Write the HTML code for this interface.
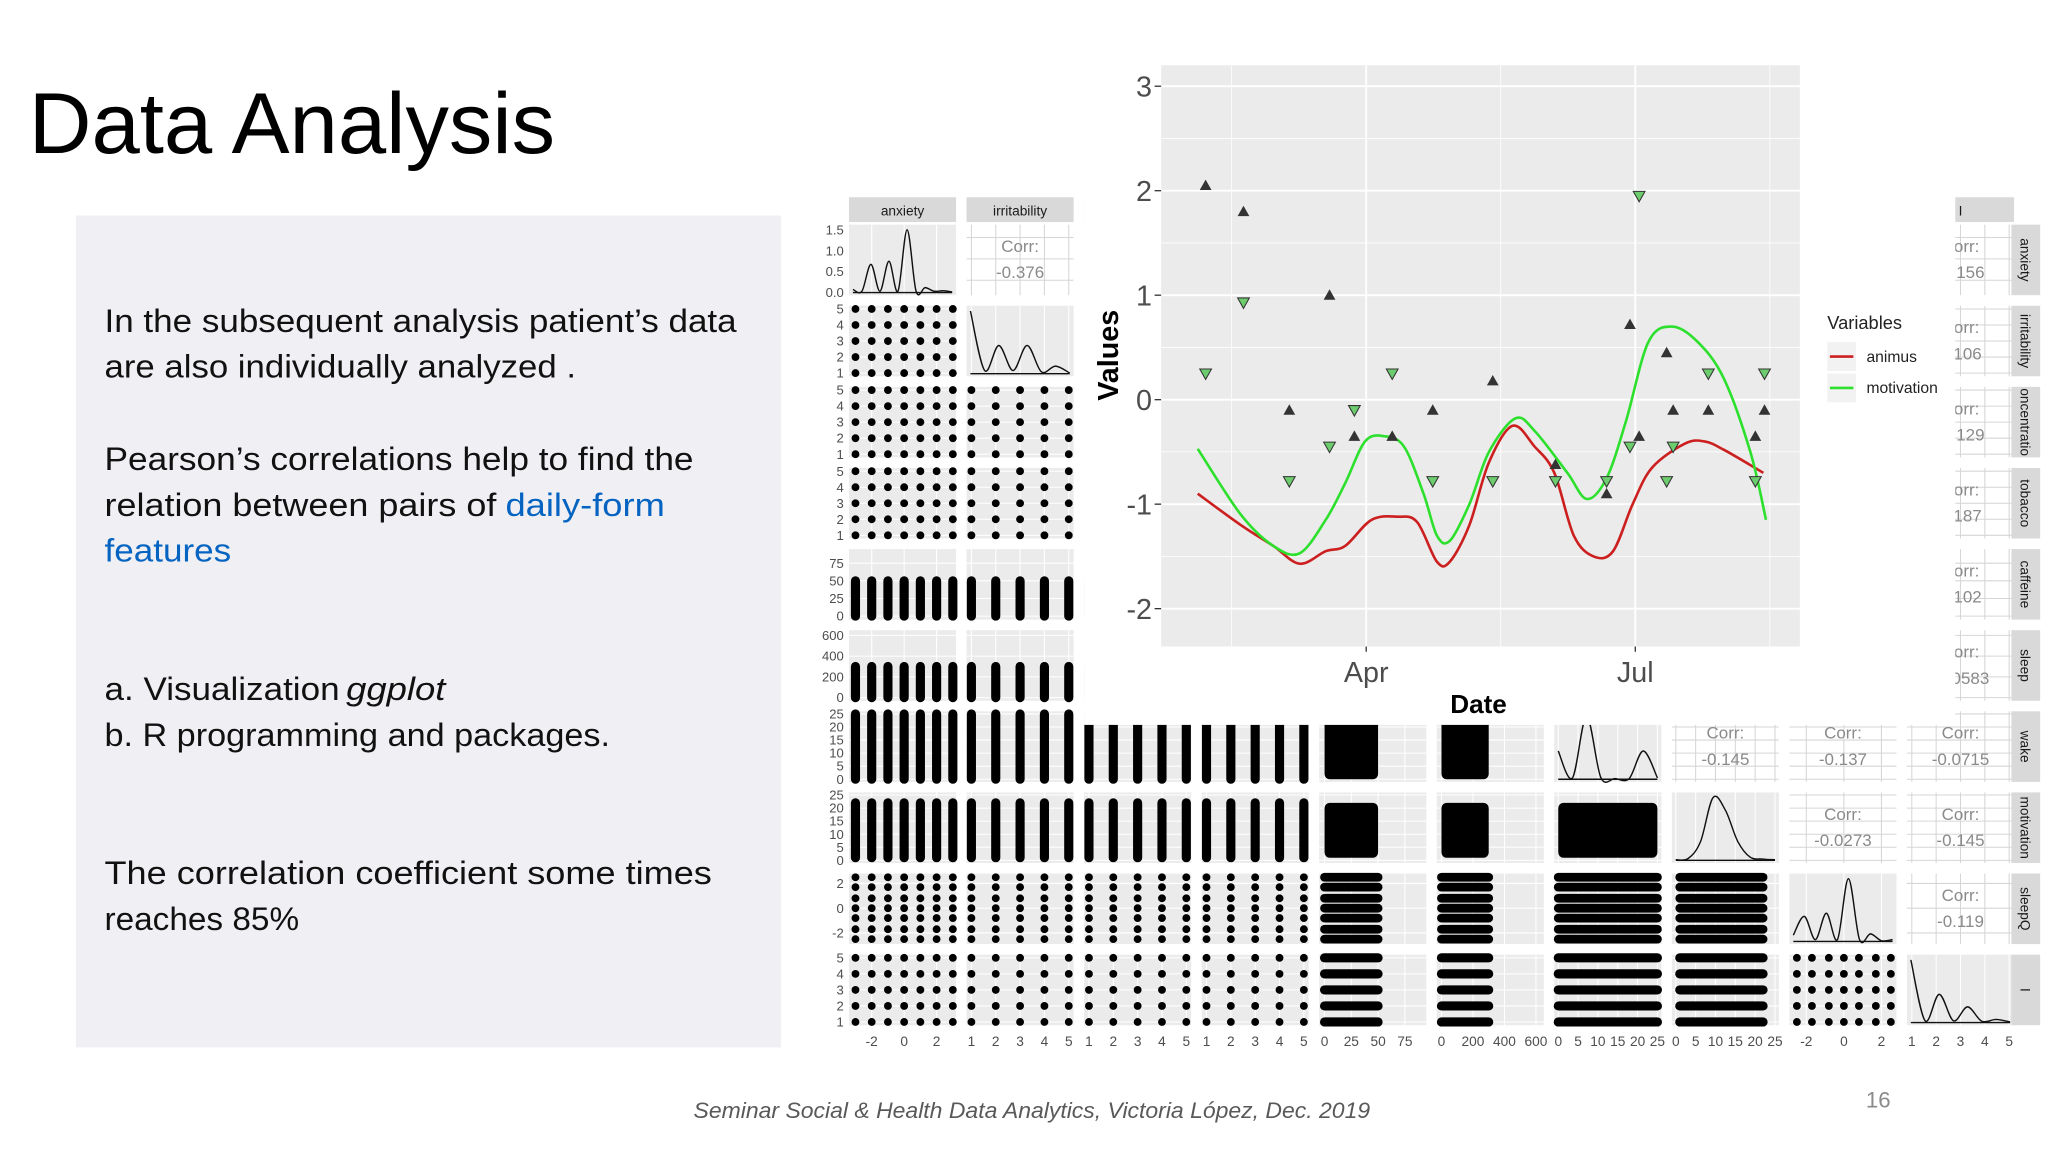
<!DOCTYPE html>
<html><head><meta charset="utf-8"><style>
html,body{margin:0;padding:0;background:#fff;width:2048px;height:1152px;overflow:hidden}
svg{display:block}
text{font-family:"Liberation Sans",sans-serif}
</style></head><body>
<svg id="s" width="2048" height="1152" viewBox="0 0 1568 882" xmlns="http://www.w3.org/2000/svg">
<text x="22" y="117" font-size="66" textLength="403" lengthAdjust="spacingAndGlyphs" fill="#000">Data Analysis</text>
<rect x="58" y="165" width="540" height="637" fill="#f0f0f4"/>
<g font-size="25" fill="#111">
<text x="80" y="254" textLength="484" lengthAdjust="spacingAndGlyphs">In the subsequent analysis patient’s data</text>
<text x="80" y="289" textLength="361" lengthAdjust="spacingAndGlyphs">are also individually analyzed .</text>
<text x="80" y="360" textLength="451" lengthAdjust="spacingAndGlyphs">Pearson’s correlations help to find the</text>
<text x="80" y="395" textLength="300" lengthAdjust="spacingAndGlyphs">relation between pairs of</text>
<text x="387" y="395" textLength="122" lengthAdjust="spacingAndGlyphs" fill="#0563c1">daily-form</text>
<text x="80" y="430" textLength="97" lengthAdjust="spacingAndGlyphs" fill="#0563c1">features</text>
<text x="80" y="536" textLength="180" lengthAdjust="spacingAndGlyphs">a. Visualization</text>
<text x="265" y="536" textLength="76" lengthAdjust="spacingAndGlyphs" font-style="italic">ggplot</text>
<text x="80" y="571" textLength="387" lengthAdjust="spacingAndGlyphs">b. R programming and packages.</text>
<text x="80" y="677" textLength="465" lengthAdjust="spacingAndGlyphs">The correlation coefficient  some times</text>
<text x="80" y="712" textLength="149" lengthAdjust="spacingAndGlyphs">reaches 85%</text>
</g>
<text x="790" y="856" font-size="17" font-style="italic" fill="#595959" text-anchor="middle" textLength="518" lengthAdjust="spacingAndGlyphs">Seminar Social &amp; Health Data Analytics, Victoria López, Dec. 2019</text>
<text x="1438" y="848" font-size="17" fill="#8a8a8a" text-anchor="middle">16</text>
<g id="pairs"></g>
<g id="gg"></g>
</svg>
<script>
// ---- pairs matrix data ----
const varNames=["anxiety","irritability","concentration","tobacco","caffeine","sleep","wake","motivation","sleepQ","I"];
const stripLabels=["anxiety","irritability","oncentratio","tobacco","caffeine","sleep","wake","motivation","sleepQ","I"];
const varRanges=[[-3.4,3.2],[0.8,5.2],[0.8,5.2],[0.8,5.2],[-5,95],[-30,650],[-1,26],[-1,26],[-2.9,2.8],[0.8,5.2]];
const varLevels=[[-3,-2,-1,0,1,2,3],[1,2,3,4,5],[1,2,3,4,5],[1,2,3,4,5],null,null,null,null,[-2.5,-1.7,-0.8,0,0.8,1.7,2.5],[1,2,3,4,5]];
const varSpans=[null,null,null,null,[0,50],[0,300],[0,25],[1,22],null,null];
const varTicks=[[-2,0,2],[1,2,3,4,5],[1,2,3,4,5],[1,2,3,4,5],[0,25,50,75],[0,200,400,600],[0,5,10,15,20,25],[0,5,10,15,20,25],[-2,0,2],[1,2,3,4,5]];
const diagDensity=[[0.05,0.02,0.45,0.02,0.5,0.02,1,0.02,0.08,0.02,0.03,0.01],[1,0.05,0.45,0.05,0.45,0.03,0.12,0.01],[0.3,0.6,0.8,0.5,0.3],[0.5,0.4,0.6,0.3,0.2],[0.9,0.6,0.4,0.2,0.05],[0.8,0.5,0.3,0.1,0.02],[0.45,0.02,1,0.03,0.01,0.01,0.45,0.02],[0.01,0.03,0.3,1,0.8,0.3,0.05,0.02,0.01],[0.1,0.4,0.03,0.45,0.03,1,0.03,0.12,0.01,0.03],[1,0.03,0.45,0.03,0.25,0.02,0.05,0.01]];
const corrCells=[[0,1,"-0.376"],[0,9,"-0.156"],[1,9,"0.106"],[2,9,"-0.129"],[3,9,"0.187"],[4,9,"0.102"],[5,9,"-0.0583"],[6,7,"-0.145"],[6,8,"-0.137"],[6,9,"-0.0715"],[7,8,"-0.0273"],[7,9,"-0.145"],[8,9,"-0.119"]];
// ---- time series data (days relative to Apr 1) ----
const ptDays=[-54.3,-41.5,-26,-12.4,-4,8.8,22.5,42.8,64,81.3,89.2,92.3,101.6,103.8,115.7,131.6,134.7];
const animusPts=[2.05,1.8,-0.1,1.0,-0.35,-0.35,-0.1,0.18,-0.62,-0.9,0.72,-0.35,0.45,-0.1,-0.1,-0.35,-0.1];
const motivPts=[0.25,0.93,-0.78,-0.45,-0.1,0.25,-0.78,-0.78,-0.78,-0.78,-0.45,1.95,-0.78,-0.45,0.25,-0.78,0.25];
const redDays=[-57,-42.4,-31.4,-22.5,-13.7,-7.1,1.8,10.6,17.2,23.9,28.3,34.9,41.5,49.5,57,63.6,70.2,76.9,83.5,90.1,96.7,107.8,114.4,121,134.3];
const redVals=[-0.9,-1.2,-1.4,-1.57,-1.45,-1.4,-1.15,-1.12,-1.17,-1.55,-1.55,-1.2,-0.6,-0.25,-0.45,-0.7,-1.3,-1.5,-1.45,-1.0,-0.65,-0.42,-0.4,-0.48,-0.7];
const greenDays=[-57,-42.4,-31.4,-22.5,-13.7,-7.1,-0.4,6.2,12.8,19.4,23.9,28.3,34.9,41.5,50.4,57,68,74.6,81.3,87.9,95.4,103.4,112.2,121,129.9,135.2];
const greenVals=[-0.47,-1.1,-1.4,-1.47,-1.15,-0.8,-0.4,-0.35,-0.45,-0.9,-1.3,-1.35,-1.0,-0.5,-0.18,-0.3,-0.7,-0.95,-0.75,-0.2,0.55,0.7,0.55,0.2,-0.5,-1.15];
const yTicks=[-2,-1,0,1,2,3];
const xTickLabels=["Apr","Jul"];
const xTickDays=[0,91];

const NS="http://www.w3.org/2000/svg";
function mk(tag,attrs,parent){const e=document.createElementNS(NS,tag);for(const k in attrs)e.setAttribute(k,attrs[k]);parent.appendChild(e);return e;}
function smooth(pts){let p='M'+pts[0][0].toFixed(1)+','+pts[0][1].toFixed(1);
  for(let i=0;i<pts.length-1;i++){const p0=pts[Math.max(0,i-1)],p1=pts[i],p2=pts[i+1],p3=pts[Math.min(pts.length-1,i+2)];
    const c1=[p1[0]+(p2[0]-p0[0])/6,p1[1]+(p2[1]-p0[1])/6],c2=[p2[0]-(p3[0]-p1[0])/6,p2[1]-(p3[1]-p1[1])/6];
    p+=` C${c1[0].toFixed(1)},${c1[1].toFixed(1)} ${c2[0].toFixed(1)},${c2[1].toFixed(1)} ${p2[0].toFixed(1)},${p2[1].toFixed(1)}`;}
  return p;}
const P=document.getElementById('pairs');
const colX=c=>650+90*c, rowY=r=>172+62.1*r, PW=82, PH=54;
function sx(v,c,val){const [a,b]=varRanges[v];return colX(c)+(val-a)/(b-a)*PW;}
function sy(v,r,val){const [a,b]=varRanges[v];return rowY(r)+PH-(val-a)/(b-a)*PH;}

for(let r=0;r<10;r++){for(let c=0;c<10;c++){
  const x=colX(c),y=rowY(r);
  const bg=mk('rect',{x:x,y:y,width:PW,height:PH,fill:(c>r)?'#fff':'#ebebeb'},P);
  
  
  const gx=varTicks[c], gy=varTicks[r];
  gx.forEach(t=>{const X=sx(c,c,t);const l=mk('line',{x1:X,x2:X,y1:y,y2:y+PH,stroke:(c>r)?'#d6d6d6':'#fff','stroke-width':0.8},P);});
  if(r!==c) gy.forEach(t=>{const Y=sy(r,r,t);const l=mk('line',{x1:x,x2:x+PW,y1:Y,y2:Y,stroke:(c>r)?'#d6d6d6':'#fff','stroke-width':0.8},P);});
  if(r===c){
    const d=diagDensity[r];let pts=[];
    d.forEach((v,i)=>{pts.push([x+3+i*(PW-6)/(d.length-1),y+PH-2-v*(PH-6)]);});
    const base=mk('line',{x1:x+3,x2:x+PW-3,y1:y+PH-2,y2:y+PH-2,stroke:'#111','stroke-width':1.1},P);
    
    const e=mk('path',{d:smooth(pts),fill:'none',stroke:'#111','stroke-width':1.1},P);
    
    
  } else if(c<r){
    const lx=varLevels[c], ly=varLevels[r];
    if(lx&&ly){lx.forEach(a=>ly.forEach(b=>{const e=mk('circle',{cx:sx(c,c,a),cy:sy(r,r,b),r:3},P);}));}
    else if(!lx&&ly){const s=varSpans[c];ly.forEach(b=>{const Y=sy(r,r,b);const e=mk('line',{x1:sx(c,c,s[0]),x2:sx(c,c,s[1]),y1:Y,y2:Y,stroke:'#000','stroke-width':Math.min(7,PH/ly.length-1),'stroke-linecap':'round'},P);});}
    else if(lx&&!ly){const s=varSpans[r];lx.forEach(a=>{const X=sx(c,c,a);const e=mk('line',{x1:X,x2:X,y1:sy(r,r,s[0]),y2:sy(r,r,s[1]),stroke:'#000','stroke-width':Math.min(7,PW/lx.length-2),'stroke-linecap':'round'},P);});}
    else{const s1=varSpans[c],s2=varSpans[r];const X1=sx(c,c,s1[0]),X2=sx(c,c,s1[1]),Y1=sy(r,r,s2[1]),Y2=sy(r,r,s2[0]);const e=mk('rect',{x:X1,y:Y1,width:X2-X1,height:Y2-Y1,rx:4,fill:'#000'},P);}
  }
}}
corrCells.forEach(([r,c,v])=>{
  const x=colX(c)+PW/2,y=rowY(r);
  const t1=mk('text',{x:x,y:y+21,'font-size':13,fill:'#8a8a8a','text-anchor':'middle'},P);t1.textContent='Corr:';
  
  const t2=mk('text',{x:x,y:y+41,'font-size':13,fill:'#8a8a8a','text-anchor':'middle'},P);t2.textContent=v;
  
});
for(let i=0;i<10;i++){
  const s=mk('rect',{x:colX(i),y:151,width:PW,height:19,fill:'#d9d9d9'},P);
  const t=mk('text',{x:colX(i)+PW/2,y:165,'font-size':10.5,fill:'#1a1a1a','text-anchor':'middle'},P);t.textContent=varNames[i];
  const r2=mk('rect',{x:1540,y:rowY(i),width:22,height:PH,fill:'#d9d9d9'},P);
  const cy=rowY(i)+PH/2;
  const t3=mk('text',{x:1547,y:cy,'font-size':10.5,fill:'#1a1a1a','text-anchor':'middle',transform:'rotate(90 1547 '+cy+')'},P);t3.textContent=stripLabels[i];
  varTicks[i].forEach(t=>{const X=sx(i,i,t);const e=mk('text',{x:X,y:801,'font-size':10.5,fill:'#4d4d4d','text-anchor':'middle'},P);e.textContent=t;});
  if(i>0) varTicks[i].forEach(t=>{const Y=sy(i,i,t);const e=mk('text',{x:646,y:Y+3.5,'font-size':10,fill:'#4d4d4d','text-anchor':'end'},P);e.textContent=t;});
}
[0,0.5,1.0,1.5].forEach(t=>{const Y=rowY(0)+PH-2-t/1.5*(PH-6);const e=mk('text',{x:646,y:Y+3.5,'font-size':10,fill:'#4d4d4d','text-anchor':'end'},P);e.textContent=t.toFixed(1);});

// ---- ggplot overlay ----
const G=document.getElementById('gg');
const ov=mk('rect',{x:830,y:0,width:667,height:555,fill:'#fff'},G);
const PL=889,PR=1378,PT=50,PB=495;
const X=d=>1046+d*2.264, Y=v=>306-v*80;
const pb=mk('rect',{x:PL,y:PT,width:PR-PL,height:PB-PT,fill:'#ebebeb'},G);
for(let v=-2.5;v<=3;v+=0.5){const yy=Y(v);if(yy<PT||yy>PB)continue;const major=Number.isInteger(v);const l=mk('line',{x1:PL,x2:PR,y1:yy,y2:yy,stroke:'#fff','stroke-width':major?1.4:0.6},G);}
[-45.5,0,45.5,91,136.5].forEach(d=>{const xx=X(d);if(xx<PL||xx>PR)return;const l=mk('line',{x1:xx,x2:xx,y1:PT,y2:PB,stroke:'#fff','stroke-width':(d%91===0)?1.4:0.6},G);});
yTicks.forEach(v=>{const t=mk('text',{x:882,y:Y(v)+8,'font-size':22,fill:'#4d4d4d','text-anchor':'end'},G);t.textContent=v;
  const k=mk('line',{x1:884,x2:PL,y1:Y(v),y2:Y(v),stroke:'#333'},G);});
xTickLabels.forEach((s,i)=>{const xx=X(xTickDays[i]);const t=mk('text',{x:xx,y:522,'font-size':22,fill:'#4d4d4d','text-anchor':'middle'},G);t.textContent=s;
  const k=mk('line',{x1:xx,x2:xx,y1:PB,y2:PB+4,stroke:'#333'},G);});
let t=mk('text',{x:1132,y:546,'font-size':20,'font-weight':'bold','text-anchor':'middle',fill:'#000'},G);t.textContent='Date';
t=mk('text',{x:856,y:272,'font-size':22,'font-weight':'bold','text-anchor':'middle',fill:'#000',transform:'rotate(-90 856 272)'},G);t.textContent='Values';
function line(days,vals,col,name){const pts=days.map((d,i)=>[X(d),Y(vals[i])]);const e=mk('path',{d:smooth(pts),fill:'none',stroke:col,'stroke-width':2,'stroke-linejoin':'round'},G);}
line(redDays,redVals,'#cc1f1f','animus-line');
line(greenDays,greenVals,'#2ee02e','motivation-line');
ptDays.forEach((d,i)=>{const x=X(d),y=Y(animusPts[i]);const e=mk('path',{d:`M${x},${y-4.5} L${x+4.5},${y+3.5} L${x-4.5},${y+3.5} Z`,fill:'#333'},G);});
ptDays.forEach((d,i)=>{const x=X(d),y=Y(motivPts[i]);const e=mk('path',{d:`M${x-4.5},${y-3.5} L${x+4.5},${y-3.5} L${x},${y+4.5} Z`,fill:'#6dcc6d',stroke:'#333','stroke-width':0.8},G);});
t=mk('text',{x:1399,y:252,'font-size':14,fill:'#222'},G);t.textContent='Variables';
[['animus','#cc1f1f',262],['motivation','#2ee02e',286]].forEach(([n,c,y])=>{
  const b=mk('rect',{x:1399,y:y,width:22,height:22,fill:'#f2f2f2'},G);
  const l=mk('line',{x1:1401,x2:1419,y1:y+11,y2:y+11,stroke:c,'stroke-width':2},G);
  const tt=mk('text',{x:1429,y:y+15,'font-size':12,fill:'#222'},G);tt.textContent=n;
});
</script>
</body></html>
